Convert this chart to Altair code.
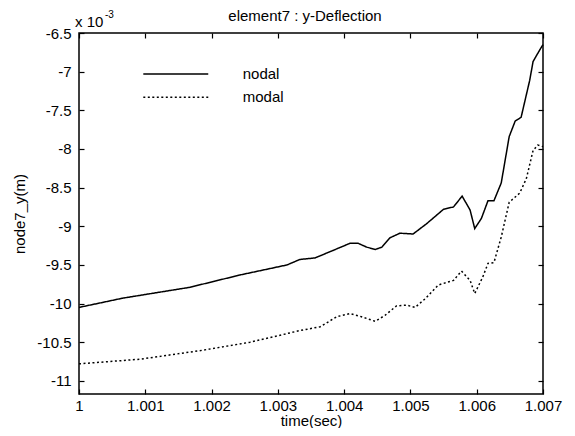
import altair as alt
import pandas as pd

# ---- data (y values in units of 1e-3 m) ----
nodal_t = [1.0, 1.00066, 1.00167, 1.00243, 1.00314, 1.00333, 1.00356, 1.00384, 1.00409,
           1.00421, 1.00434, 1.00447, 1.00457, 1.00469, 1.00484, 1.00504, 1.00524, 1.0055,
           1.00565, 1.00578, 1.0059, 1.00597, 1.00607, 1.00617, 1.00626, 1.00637, 1.00649,
           1.00658, 1.00667, 1.0068, 1.00685, 1.00695, 1.007]
nodal_v = [-10.05, -9.93, -9.79, -9.63, -9.50, -9.43, -9.41, -9.31, -9.22,
           -9.22, -9.27, -9.30, -9.27, -9.15, -9.09, -9.10, -8.97, -8.78,
           -8.75, -8.61, -8.79, -9.03, -8.90, -8.67, -8.67, -8.44, -7.84,
           -7.64, -7.59, -7.11, -6.87, -6.72, -6.65]

modal_t = [1.0, 1.00092, 1.00182, 1.00258, 1.00333, 1.00364, 1.00389, 1.00409, 1.00426,
           1.00447, 1.00462, 1.00479, 1.00494, 1.00507, 1.00522, 1.00542, 1.00565, 1.00577,
           1.0059, 1.00597, 1.00609, 1.00617, 1.00626, 1.00637, 1.00649, 1.00665, 1.00675,
           1.00685, 1.00692, 1.007]
modal_v = [-10.78, -10.72, -10.61, -10.50, -10.35, -10.30, -10.17, -10.13, -10.17,
           -10.23, -10.15, -10.03, -10.02, -10.05, -9.94, -9.76, -9.70, -9.58,
           -9.70, -9.87, -9.66, -9.48, -9.47, -9.14, -8.69, -8.57, -8.38,
           -8.02, -7.95, -7.97]

series_names = ["nodal", "modal"]
x_ticks = [1.0, 1.001, 1.002, 1.003, 1.004, 1.005, 1.006, 1.007]
y_ticks = [-6.5, -7, -7.5, -8, -8.5, -9, -9.5, -10, -10.5, -11]
title_text = "element7 : y-Deflection"

# legend entries (placed in data coordinates)
leg_series = ["nodal", "modal"]
leg_y = [-7.03, -7.33]
leg_x0 = 1.00097
leg_x1 = 1.00195
leg_lx = 1.00247

rows = [{"t": t, "v": v, "series": "nodal"} for t, v in zip(nodal_t, nodal_v)]
rows += [{"t": t, "v": v, "series": "modal"} for t, v in zip(modal_t, modal_v)]
df = pd.DataFrame(rows)

leg = pd.DataFrame({"series": leg_series, "y": leg_y,
                    "x0": [leg_x0] * 2, "x1": [leg_x1] * 2, "lx": [leg_lx] * 2})

FONT = "Liberation Sans"
FS = 15
xs = alt.Scale(domain=[1.0, 1.007], nice=False, zero=False)
ys = alt.Scale(domain=[-11.17, -6.5], nice=False, zero=False)

lab = "'' + datum.value"

x_bottom = alt.Axis(orient="bottom", values=x_ticks, labelExpr=lab, offset=-5, tickSize=5,
                    domain=False, grid=False, labelPadding=4, title="time(sec)",
                    titlePadding=0, labelFlush=False, labelOverlap=False)
y_left = alt.Axis(orient="left", values=y_ticks, labelExpr=lab, offset=-5, tickSize=5,
                  domain=False, grid=False, labelPadding=8, title="node7_y(m)",
                  titlePadding=9, labelFlush=False, labelOverlap=False)
x_top = alt.Axis(orient="top", values=x_ticks, labels=False, offset=-5, tickSize=5,
                 domain=False, grid=False, title=None)
y_right = alt.Axis(orient="right", values=y_ticks, labels=False, offset=-5, tickSize=5,
                   domain=False, grid=False, title=None)

dash = alt.StrokeDash("series:N",
                      scale=alt.Scale(domain=series_names, range=[[1, 0], [2, 2.5]]),
                      legend=None)

lines = alt.Chart(df).mark_line(strokeWidth=1.5, color="black").encode(
    x=alt.X("t:Q", scale=xs, axis=x_bottom),
    y=alt.Y("v:Q", scale=ys, axis=y_left),
    detail="series:N",
    strokeDash=dash,
)

leg_lines = alt.Chart(leg).mark_rule(strokeWidth=1.5, color="black").encode(
    x=alt.X("x0:Q", scale=xs, axis=x_top),
    x2="x1:Q",
    y=alt.Y("y:Q", scale=ys, axis=y_right),
    strokeDash=dash,
)

leg_text = alt.Chart(leg).mark_text(align="left", baseline="middle", font=FONT,
                                    fontSize=FS, color="black").encode(
    x=alt.X("lx:Q", scale=xs, axis=None),
    y=alt.Y("y:Q", scale=ys, axis=None),
    text="series:N",
)

one = pd.DataFrame({"a": [0]})
mult = alt.Chart(one).mark_text(
    align="left", baseline="alphabetic", font=FONT, fontSize=FS, color="black"
).encode(x=alt.value(-4), y=alt.value(-6), text=alt.value("x 10"))

mult_exp = alt.Chart(one).mark_text(
    align="left", baseline="alphabetic", font=FONT, fontSize=10, color="black"
).encode(x=alt.value(26), y=alt.value(-15), text=alt.value("-3"))

title = alt.Chart(one).mark_text(
    align="center", baseline="alphabetic", font=FONT, fontSize=FS, color="black"
).encode(x=alt.value(226), y=alt.value(-12), text=alt.value(title_text))

chart = alt.layer(lines, leg_lines, leg_text, mult, mult_exp, title).resolve_axis(
    x="independent", y="independent"
).properties(
    width=464, height=361, autosize="none",
    padding={"left": 71, "top": 25, "right": 24, "bottom": 34},
).configure_view(stroke="black", strokeWidth=1.5).configure_axis(
    labelFont=FONT, labelFontSize=FS, labelColor="black", tickColor="black",
    tickWidth=1.2, titleFont=FONT, titleFontSize=FS, titleFontWeight="normal",
    titleColor="black"
)

chart.save("out.html", embed_options={"renderer": "svg", "actions": False})
